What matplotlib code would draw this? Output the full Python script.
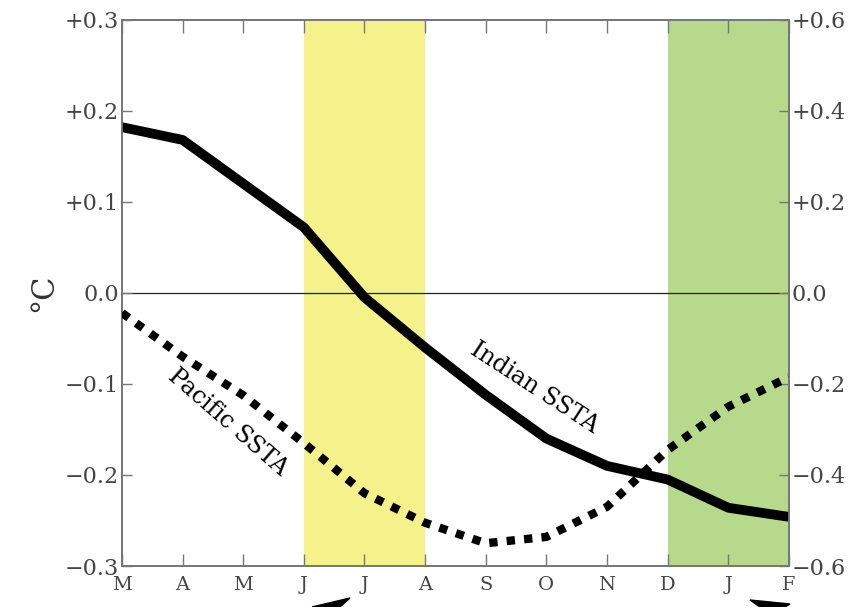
import numpy as np
import matplotlib.pyplot as plt
from matplotlib.patches import Polygon

# Datos
months = ['M', 'A', 'M', 'J', 'J', 'A', 'S', 'O', 'N', 'D', 'J', 'F']
indian = [0.182, 0.168, 0.120, 0.072, -0.005, -0.060, -0.112, -0.160, -0.190, -0.205, -0.236, -0.246]
pacific = [-0.044, -0.140, -0.225, -0.330, -0.440, -0.505, -0.550, -0.536, -0.470, -0.345, -0.250, -0.185]
left_ticks = [0.3, 0.2, 0.1, 0.0, -0.1, -0.2, -0.3]
right_ticks = [0.6, 0.4, 0.2, 0.0, -0.2, -0.4, -0.6]
yellow_band = (3, 5)   # J..A
green_band = (9, 11)   # D..F

plt.rcParams['font.family'] = ['DejaVu Serif']
tick_col = '#444444'
frame_col = '#777777'

fig = plt.figure(figsize=(8.65, 6.07), dpi=100)
ax = fig.add_axes([0.141, 0.0675, 0.771, 0.900])
x = np.arange(len(months))

ax.axvspan(*yellow_band, color='#f5f28c', lw=0, zorder=0)
ax.axvspan(*green_band, color='#b6d98b', lw=0, zorder=0)
ax.axhline(0, color='#222222', lw=0.9, zorder=1)

ax.plot(x, indian, color='black', lw=7, solid_capstyle='butt', zorder=3)
ax.set_xlim(0, 11)
ax.set_ylim(-0.3, 0.3)

ax2 = ax.twinx()
ax2.plot(x, pacific, color='black', lw=6, linestyle=(0, (1, 1.1)),
         dash_capstyle='butt', zorder=3)
ax2.set_ylim(-0.6, 0.6)

def fmt(v):
    if abs(v) < 1e-9:
        return '0.0'
    return ('+' if v > 0 else '\u2212') + f'{abs(v):.1f}'

ax.set_xticks(x)
ax.set_xticklabels(months)
ax.set_yticks(left_ticks)
ax.set_yticklabels([fmt(v) for v in left_ticks])
ax2.set_yticks(right_ticks)
ax2.set_yticklabels([fmt(v) for v in right_ticks])

ax.tick_params(axis='x', direction='in', length=9, width=1, color=frame_col,
               top=True, labelsize=14, labelcolor=tick_col, pad=7)
ax.tick_params(axis='y', direction='in', length=7, width=1, color=frame_col,
               labelsize=16, labelcolor=tick_col, pad=2)
ax2.tick_params(axis='y', direction='in', length=7, width=1, color=frame_col,
                labelsize=16, labelcolor=tick_col, pad=2)

for a in (ax, ax2):
    for s in a.spines.values():
        s.set_color(frame_col)
        s.set_linewidth(1.3)

ax.set_ylabel('°C', fontsize=22, color='#333333', labelpad=4)

ax.text(6.8, -0.104, 'Indian SSTA', rotation=-33, fontsize=17,
        ha='center', va='center', zorder=4)
ax2.text(1.75, -0.284, 'Pacific SSTA', rotation=-41, fontsize=17,
         ha='center', va='center', zorder=4)

# pontas de setas cortadas no rodapé
fig.patches.append(Polygon([[312 / 865, 1 - 607 / 607], [350 / 865, 1 - 598 / 607],
                            [340 / 865, 1 - 607 / 607]], closed=True,
                           transform=fig.transFigure, color='black'))
fig.patches.append(Polygon([[750 / 865, 1 - 600 / 607], [790 / 865, 1 - 604 / 607],
                            [785 / 865, 1 - 607 / 607], [760 / 865, 1 - 607 / 607]],
                           closed=True, transform=fig.transFigure, color='black'))

fig.savefig('out.png', dpi=100)
